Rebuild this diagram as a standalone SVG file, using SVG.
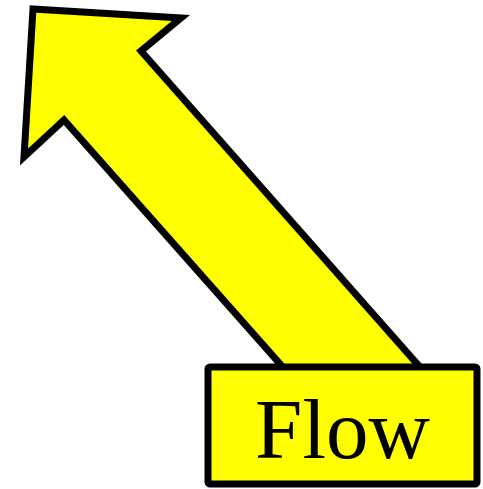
<svg xmlns="http://www.w3.org/2000/svg" width="483" height="489" viewBox="0 0 483 489">
<style>
.shape{fill:#ffff00;stroke:#000;stroke-width:7;stroke-linejoin:miter;stroke-miterlimit:10}
.lbl{font-family:"Liberation Serif","Times New Roman",serif;font-size:85px;fill:#000;text-anchor:middle}
</style>
<g id="connectors">
<polygon id="arrow" class="shape" points="33,9 181,18 141,51 449,400 312,400 64,120 24,157"/>
</g>
<g id="flow">
<rect class="shape" x="208" y="367" width="269" height="117" rx="2"/>
<text class="lbl" x="342.5" y="458">Flow</text>
</g>
</svg>
